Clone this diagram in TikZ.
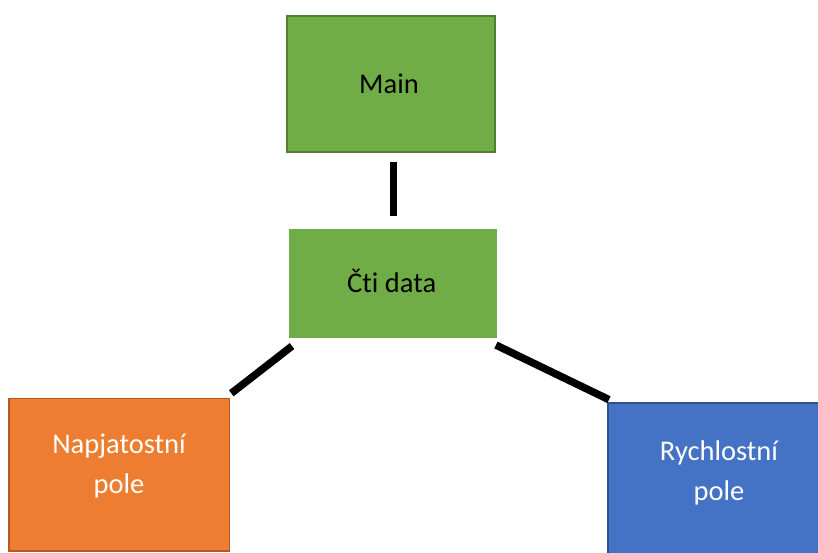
\documentclass[tikz,border=0pt]{standalone}
\usepackage{fontspec}
\setmainfont[RawFeature={-liga;-clig;-dlig}]{Carlito}
\usetikzlibrary{calc}

\definecolor{grnfill}{HTML}{70AD47}
\definecolor{grnline}{HTML}{507E32}
\definecolor{orgfill}{HTML}{ED7D31}
\definecolor{orgline}{HTML}{AE5A21}
\definecolor{blufill}{HTML}{4472C4}
\definecolor{bluline}{HTML}{2F528F}

\tikzset{
  box/.style={rectangle, inner sep=0pt, font=\fontsize{28.5}{40}\selectfont,
    text height=18pt, text depth=0pt},
  twoline/.style={box, text depth=60.4pt},
  conn/.style={line width=7.5pt, black, line cap=butt}
}

\newcommand{\twolines}[2]{\parbox[t]{200pt}{\centering #1\\#2}}

\begin{document}
\begin{tikzpicture}[x=1pt, y=-1pt]
  \useasboundingbox (0,0) rectangle (818,552);

  % program blocks
  \node[box, fill=grnfill, draw=grnline, line width=2pt,
        minimum width=208.6pt, minimum height=136pt] (main) at (391,84.3)
        {\hspace*{-4pt}Main};
  \node[box, fill=grnfill,
        minimum width=208.3pt, minimum height=109.3pt] (cti) at (393.2,283.7)
        {\hspace*{-3pt}Čti data};
  \node[twoline, fill=orgfill, draw=orgline, line width=1.5pt, text=white,
        minimum width=220.5pt, minimum height=152.3pt] (napj) at (119,474.6)
        {\twolines{Napjatostní}{pole}};
  \node[twoline, fill=blufill, draw=bluline, line width=1.5pt, text=white,
        minimum width=222pt, minimum height=156pt] (rych) at (719,481.2)
        {\twolines{Rychlostní}{pole}};

  % call links
  \draw[conn] ($(main.south)+(2.3,8.4)$) -- ($(cti.north)+(0.1,-13.1)$);
  \draw[conn] ($(cti.south west)+(3.2,7.5)$) -- ($(napj.north east)+(1.3,-4.4)$);
  \draw[conn] ($(cti.south east)+(-1.6,6.5)$) -- ($(rych.north west)+(1.7,-2.8)$);
\end{tikzpicture}
\end{document}
